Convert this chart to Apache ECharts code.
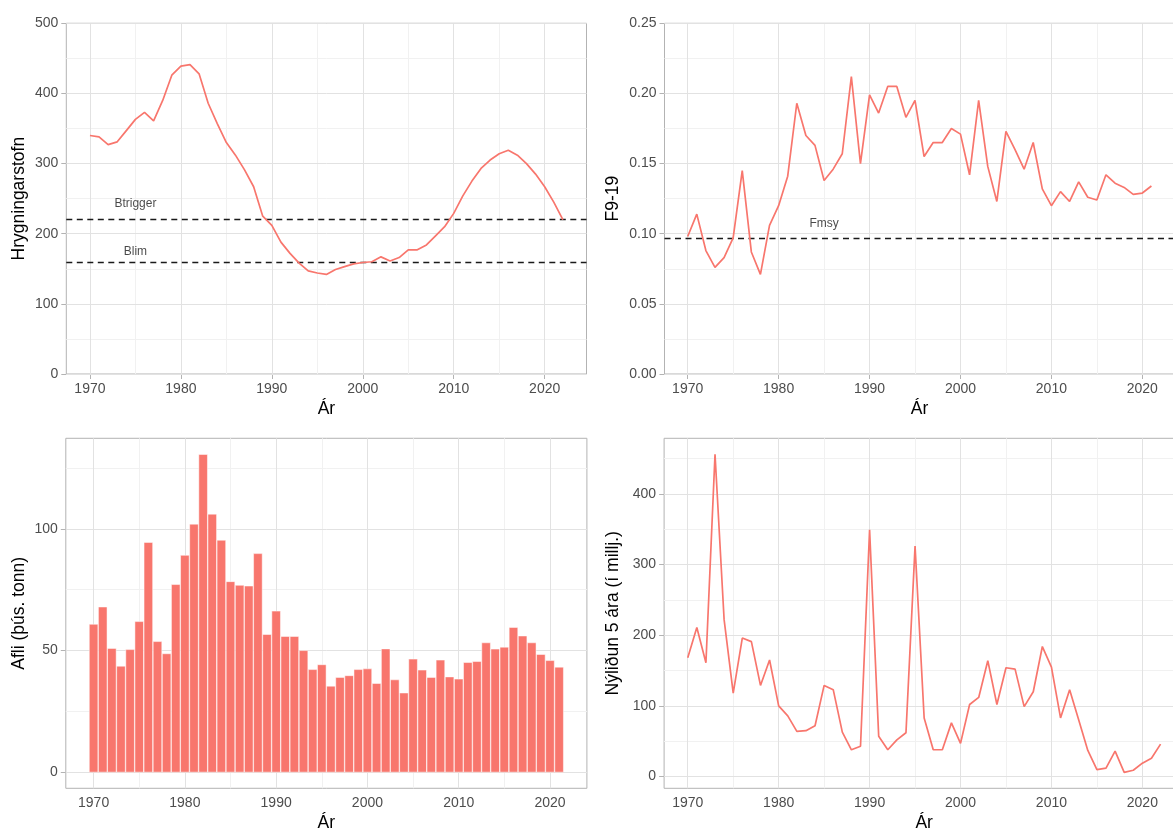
<!DOCTYPE html>
<html><head><meta charset="utf-8">
<script src="https://cdn.jsdelivr.net/npm/echarts@6/dist/echarts.min.js"></script>
<style>html,body{margin:0;padding:0;background:#fff}#c{width:1173px;height:831px}</style>
</head><body><div id="c"></div>
<script>
// ---------- data ----------
const yearsSSB = [1970,1971,1972,1973,1974,1975,1976,1977,1978,1979,1980,1981,1982,1983,1984,1985,1986,1987,1988,1989,1990,1991,1992,1993,1994,1995,1996,1997,1998,1999,2000,2001,2002,2003,2004,2005,2006,2007,2008,2009,2010,2011,2012,2013,2014,2015,2016,2017,2018,2019,2020,2021,2022];
const ssb = [340,338,327,331,347,363,373,361,390,426,439,441,428,386,357,330,312,291,267,225,212,188,172,158,147,144,142,149,153,157,159,160,167,161,166,177,177,184,197,210,229,254,275,293,305,314,319,312,300,285,267,245,220];

const yearsF = [1970,1971,1972,1973,1974,1975,1976,1977,1978,1979,1980,1981,1982,1983,1984,1985,1986,1987,1988,1989,1990,1991,1992,1993,1994,1995,1996,1997,1998,1999,2000,2001,2002,2003,2004,2005,2006,2007,2008,2009,2010,2011,2012,2013,2014,2015,2016,2017,2018,2019,2020,2021];
const fishingF = [0.098,0.114,0.088,0.076,0.083,0.097,0.145,0.087,0.071,0.106,0.120,0.141,0.193,0.170,0.163,0.138,0.146,0.157,0.212,0.150,0.199,0.186,0.205,0.205,0.183,0.195,0.155,0.165,0.165,0.175,0.171,0.142,0.195,0.148,0.123,0.173,0.160,0.146,0.165,0.132,0.120,0.130,0.123,0.137,0.126,0.124,0.142,0.136,0.133,0.128,0.129,0.134];

const yearsCatch = [1970,1971,1972,1973,1974,1975,1976,1977,1978,1979,1980,1981,1982,1983,1984,1985,1986,1987,1988,1989,1990,1991,1992,1993,1994,1995,1996,1997,1998,1999,2000,2001,2002,2003,2004,2005,2006,2007,2008,2009,2010,2011,2012,2013,2014,2015,2016,2017,2018,2019,2020,2021];
const catchT = [60.9,68.0,51.0,43.7,50.5,62.0,94.5,53.8,48.8,77.2,89.2,102.0,130.6,106.1,95.4,78.4,76.9,76.6,89.9,56.7,66.3,55.9,55.9,50.1,42.3,44.3,35.5,39.1,39.8,42.3,42.6,36.6,50.8,38.1,32.7,46.6,42.1,39.1,46.2,39.3,38.4,45.2,45.6,53.3,50.7,51.5,59.6,56.1,53.3,48.5,46.0,43.3];

const yearsRec = [1970,1971,1972,1973,1974,1975,1976,1977,1978,1979,1980,1981,1982,1983,1984,1985,1986,1987,1988,1989,1990,1991,1992,1993,1994,1995,1996,1997,1998,1999,2000,2001,2002,2003,2004,2005,2006,2007,2008,2009,2010,2011,2012,2013,2014,2015,2016,2017,2018,2019,2020,2021,2022];
const recruits = [168,211,161,456,222,118,196,191,129,165,100,86,64,65,72,129,123,63,38,43,349,57,38,52,62,326,83,38,38,76,47,102,112,164,102,154,152,99,120,184,155,83,123,80,37,10,12,36,6,9,19,26,46];

// reference points
const ssbRefNames = ['Btrigger','Blim'];
const ssbRefValues = [220,160];
const ssbRefLabelX = [1975,1975];
const ssbRefLabelY = [243,175];
const fRefNames = ['Fmsy'];
const fRefValues = [0.097];
const fRefLabelX = [1985];
const fRefLabelY = [0.107];

// ticks
const xTicks = [1970,1980,1990,2000,2010,2020];
const xMinor = [1975,1985,1995,2005,2015];
const ssbTicks = [0,100,200,300,400,500];
const ssbMinor = [50,150,250,350,450];
const fTicks = [0,0.05,0.10,0.15,0.20,0.25];
const fMinor = [0.025,0.075,0.125,0.175,0.225];
const catchTicks = [0,50,100];
const catchMinor = [25,75,125];
const recTicks = [0,100,200,300,400];
const recMinor = [50,150,250,350,450];

// ---------- styling ----------
const FONT = 'Liberation Sans, Arial, sans-serif';
const RED = '#F8766D';
const MAJOR = '#E2E2E2';
const MINOR = '#F1F1F1';
const BORDER = '#B3B3B3';

function padRange(lo, hi, f) { const d = (hi - lo) * f; return [lo - d, hi + d]; }

const grids = [], xAxes = [], yAxes = [], series = [];

function addPanel(i, p) {
  grids.push({left: p.left, top: p.top, width: p.width, height: p.height, show: true,
    borderColor: BORDER, borderWidth: 1, backgroundColor: '#fff', containLabel: false, outerBoundsMode: 'none'});
  xAxes.push({gridIndex: i, type: 'value', min: p.xr[0], max: p.xr[1],
    axisLine: {show: false},
    axisTick: {show: true, length: 5, customValues: xTicks, lineStyle: {color: BORDER, width: 1}},
    axisLabel: {customValues: xTicks, formatter: v => String(v), color: '#4D4D4D', fontSize: 14, fontFamily: FONT, margin: 8},
    splitLine: {show: false}, minorSplitLine: {show: false},
    name: 'Ár', nameLocation: 'middle', nameGap: 26,
    nameTextStyle: {color: '#000', fontSize: 17.5, fontFamily: FONT}});
  yAxes.push({gridIndex: i, type: 'value', min: p.yr[0], max: p.yr[1],
    axisLine: {show: false},
    axisTick: {show: true, length: 5, customValues: p.yTicks, lineStyle: {color: BORDER, width: 1}},
    axisLabel: {customValues: p.yTicks, formatter: p.yFmt, color: '#4D4D4D', fontSize: 14, fontFamily: FONT, margin: 8},
    splitLine: {show: false}, minorSplitLine: {show: false},
    name: p.yName, nameLocation: 'middle', nameRotate: 90, nameGap: p.nameGap,
    nameTextStyle: {color: '#000', fontSize: 17.5, fontFamily: FONT}});
  const ml = [];
  p.yMinor.forEach(v => ml.push({yAxis: v, lineStyle: {color: MINOR, width: 1, type: 'solid'}}));
  xMinor.forEach(v => ml.push({xAxis: v, lineStyle: {color: MINOR, width: 1, type: 'solid'}}));
  p.yTicks.forEach(v => ml.push({yAxis: v, lineStyle: {color: MAJOR, width: 1, type: 'solid'}}));
  xTicks.forEach(v => ml.push({xAxis: v, lineStyle: {color: MAJOR, width: 1, type: 'solid'}}));
  (p.refs || []).forEach(v => ml.push({yAxis: v, lineStyle: {color: '#1A1A1A', width: 1.4, type: [6, 4.5]}}));
  const pts = p.xs.map((x, k) => [x, p.ys[k]]);
  series.push({type: 'line', xAxisIndex: i, yAxisIndex: i, data: pts, showSymbol: false, symbol: 'none',
    lineStyle: {opacity: 0, width: 0}, silent: true, z: 1,
    markLine: {silent: true, precision: 8, symbol: ['none', 'none'], label: {show: false}, animation: false, data: ml}});
  if (p.kind === 'bar') {
    const bw = p.width / (p.xr[1] - p.xr[0]);
    series.push({type: 'bar', xAxisIndex: i, yAxisIndex: i, data: pts, barWidth: bw,
      itemStyle: {color: RED, borderColor: '#ffffff', borderWidth: 0.5}, z: 10, silent: true});
  } else {
    series.push({type: 'line', xAxisIndex: i, yAxisIndex: i, data: pts, showSymbol: false, symbol: 'none',
      lineStyle: {color: RED, width: 1.7}, z: 10, silent: true});
  }
  if (p.labels) {
    series.push({type: 'scatter', xAxisIndex: i, yAxisIndex: i, symbolSize: 2, silent: true, z: 11,
      itemStyle: {color: 'rgba(0,0,0,0)'},
      data: p.labels.names.map((n, k) => ({name: n, value: [p.labels.x[k], p.labels.y[k]]})),
      label: {show: true, position: 'inside', formatter: '{b}', color: '#1A1A1A', fontSize: 12, fontFamily: FONT}});
  }
}

const topT = 23.3, topH = 350.7, botT = 438.3, botH = 350;

addPanel(0, {left: 66.3, top: topT, width: 520.2, height: topH,
  xr: padRange(1970, 2022, 0.05), yr: [0, 500], yTicks: ssbTicks, yMinor: ssbMinor,
  yFmt: v => String(v), yName: 'Hrygningarstofn', nameGap: 38,
  xs: yearsSSB, ys: ssb, kind: 'line', refs: ssbRefValues,
  labels: {names: ssbRefNames, x: ssbRefLabelX, y: ssbRefLabelY}});

addPanel(1, {left: 664.5, top: topT, width: 510.1, height: topH,
  xr: padRange(1970, 2021, 0.05), yr: [0, 0.25], yTicks: fTicks, yMinor: fMinor,
  yFmt: v => v.toFixed(2), yName: 'F9-19', nameGap: 42,
  xs: yearsF, ys: fishingF, kind: 'line', refs: fRefValues,
  labels: {names: fRefNames, x: fRefLabelX, y: fRefLabelY}});

const catchMax = Math.max(...catchT);
addPanel(2, {left: 65.8, top: botT, width: 521.1, height: botH,
  xr: padRange(1970 - 0.45, 2021 + 0.45, 0.05), yr: padRange(0, catchMax, 0.05), yTicks: catchTicks, yMinor: catchMinor,
  yFmt: v => String(v), yName: 'Afli (þús. tonn)', nameGap: 38,
  xs: yearsCatch, ys: catchT, kind: 'bar'});

addPanel(3, {left: 664.1, top: botT, width: 520.1, height: botH,
  xr: padRange(1970, 2022, 0.05), yr: padRange(Math.min(...recruits), Math.max(...recruits), 0.05), yTicks: recTicks, yMinor: recMinor,
  yFmt: v => String(v), yName: 'Nýliðun 5 ára (í millj.)', nameGap: 42,
  xs: yearsRec, ys: recruits, kind: 'line'});

const chart = echarts.init(document.getElementById('c'), null, {renderer: 'canvas'});
chart.setOption({animation: false, backgroundColor: '#fff', grid: grids, xAxis: xAxes, yAxis: yAxes, series: series});
</script></body></html>
